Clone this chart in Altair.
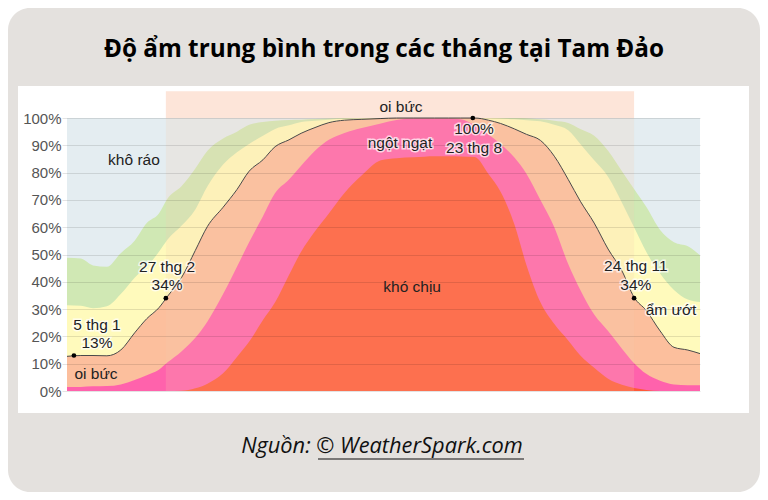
import altair as alt
import pandas as pd

# ---------------- data ----------------
days = [0, 8, 15, 23, 31, 39, 46, 53, 58, 66, 74, 81, 90, 98, 105, 113, 120, 128, 135,
        143, 151, 160, 170, 181, 190, 200, 212, 220, 227, 235, 243, 250, 258, 265, 273,
        281, 289, 296, 304, 312, 320, 327, 334, 342, 350, 358, 365]

# cumulative tops of each comfort band (% of time)
miserable_top = [0, 0, 0, 0, 0, 0, 0, 0, 0, 0.1, 1.0, 2.7, 6.5, 12.5, 18, 26, 32.5, 42.5, 51,
                 58.5, 65, 72.5, 79, 84.5, 85.3, 85.6, 86, 86, 85.9, 85.7, 79.5, 73, 61, 46, 32.5,
                 24.5, 18.5, 13, 8.5, 4.5, 2.3, 1.1, 0.4, 0, 0, 0, 0]
oppressive_top = [1.5, 1.5, 1.7, 1.8, 2.4, 4, 5.8, 7.8, 10.5, 14.5, 19.5, 25.5, 35.5, 45.5, 54.5,
                  64, 72.5, 77.5, 82.5, 88, 92, 94.5, 96.3, 98, 99.3, 99.8, 99.8, 99.8, 99.5, 97.3,
                  94, 90.5, 85.5, 79.5, 70, 60, 46.5, 37, 28, 22, 15.5, 10.2, 6.3, 3.8, 2.4, 2.1, 2.1]
muggy_top = [12.7, 13, 13, 12.9, 15, 21.3, 26.5, 30.5, 34.7, 41.5, 51.5, 60.3, 67.3, 73.8, 80.5,
             84.7, 89.5, 92, 94.4, 96.5, 98.3, 99.2, 99.5, 99.8, 100, 100, 100, 100, 100, 100,
             99.2, 98, 96, 94, 91.8, 86, 77.5, 69.5, 61.5, 52, 44, 34.3, 29.5, 22, 16, 15, 13.7]
humid_top = [31.4, 31.2, 30.3, 31, 35.5, 41.5, 45.5, 51, 55.5, 60.5, 66.5, 75, 83, 87.5, 90.5,
             93.5, 96, 97.3, 98.5, 99, 99.4, 99.7, 99.9, 100, 100, 100, 100, 100, 100, 100,
             100, 99.8, 99.5, 99.2, 98.8, 97.5, 95.5, 90.5, 84.5, 78.5, 69, 60, 51, 43, 37, 33.5, 32.6]
comfortable_top = [48.8, 48.5, 46, 45.5, 50.5, 55, 61.5, 65, 70.5, 75, 81.5, 88, 92.5, 95, 97.5,
                   98.5, 99, 99.3, 99.4, 99.6, 99.8, 100, 100, 100, 100, 100, 100, 100, 100, 100,
                   100, 100, 100, 99.9, 99.5, 99, 98.2, 96, 93.5, 88, 80.5, 74, 67.5, 59, 54.5, 53, 49.7]

month_starts = [0, 31, 59, 90, 120, 151, 181, 212, 243, 273, 304, 334, 365]
month_labels = ["Thg 1", "Thg 2", "Thg 3", "Thg 4", "Thg 5", "Thg 6", "Thg 7", "Thg 8",
                "Thg 9", "Thg 10", "Thg 11", "Thg 12", ""]
y_ticks = [0, 10, 20, 30, 40, 50, 60, 70, 80, 90, 100]

muggy_start, muggy_end = 57, 327      # 27 thg 2 -> 24 thg 11
band_top = 109.8

point_days = [4, 57, 234, 327]
point_vals = [13, 34, 100, 34]

ann_text = ["khô ráo", "oi bức", "5 thg 1", "13%", "27 thg 2", "34%", "100%", "23 thg 8",
            "ngột ngạt", "khó chịu", "24 thg 11", "34%", "ẩm ướt", "oi bức"]
ann_day = [38.6, 16.7, 17.3, 17.3, 57.7, 57.7, 234.7, 234.7, 192, 199, 328, 328, 348.3, 192.6]
ann_val = [84.5, 6.1, 24.1, 17.5, 45.3, 38.7, 95.9, 88.9, 90.7, 38, 45.7, 38.7, 29.6, 103.9]
ann_halo = [False, False, True, True, True, True, True, True, True, False, True, True, True, False]

title_text = "Độ ẩm trung bình trong các tháng tại Tam Đảo"
source_text = "Nguồn: © WeatherSpark.com"

# ---------------- chart ----------------
W, H = 633, 273
FONT = "Liberation Sans"

df = pd.DataFrame({
    "day": days, "zero": [0] * len(days),
    "miserable": miserable_top, "oppressive": oppressive_top, "muggy": muggy_top,
    "humid": humid_top, "comfortable": comfortable_top,
})
pts = pd.DataFrame({"day": point_days, "val": point_vals})
ann = pd.DataFrame({"text": ann_text, "day": ann_day, "val": ann_val, "halo": ann_halo})
plot_box = pd.DataFrame({"x0": [0], "x1": [365], "y0": [0], "y1": [100]})
period = pd.DataFrame({"x0": [muggy_start], "x1": [muggy_end], "y0": [0], "y1": [100], "yt": [band_top]})
one = pd.DataFrame({"t": [title_text], "s": [source_text]})

SX = alt.Scale(domain=[0, 365], nice=False, zero=False)
SY = alt.Scale(domain=[0, 100], nice=False, zero=False)


def X(f):
    return alt.X(f, type="quantitative", scale=SX, axis=None)


def Y(f, axis=None):
    return alt.Y(f, type="quantitative", scale=SY, axis=axis)


label_expr = ("[" + ",".join("'%s'" % m for m in month_labels) + "][indexof(["
              + ",".join(str(d) for d in month_starts) + "], datum.value)]")

x_axis = alt.Axis(values=month_starts, labelExpr=label_expr, labelOffset=26, labelFlush=False,
                  labelOverlap=False, labelBound=False, labelFont=FONT, labelFontSize=15,
                  labelColor="#555555", labelPadding=3, grid=True, gridColor="#000000",
                  gridOpacity=0.11, ticks=True, tickSize=5, tickColor="#000000", tickOpacity=0.11,
                  domain=False, title=None, zindex=1)
y_left = alt.Axis(values=y_ticks, labelExpr="datum.value + '%'", labelFont=FONT, labelFontSize=15,
                  labelColor="#555555", labelPadding=1, grid=True, gridColor="#000000",
                  gridOpacity=0.11, ticks=True, tickSize=5, tickColor="#000000", tickOpacity=0.11,
                  domain=False, title=None, orient="left", zindex=1)
y_right = alt.Axis(values=y_ticks, labelExpr="datum.value + '%'", labelFont=FONT, labelFontSize=15,
                   labelColor="#555555", labelPadding=1, grid=False, ticks=True, tickSize=5,
                   tickColor="#000000", tickOpacity=0.11, domain=False, title=None, orient="right")

card = alt.Chart(one).mark_rect(color="#e4e1de", cornerRadius=22).encode(
    x=alt.value(-59), x2=alt.value(693), y=alt.value(-110), y2=alt.value(374))
panel = alt.Chart(one).mark_rect(color="#ffffff").encode(
    x=alt.value(-49), x2=alt.value(682), y=alt.value(-32), y2=alt.value(295))

dry = alt.Chart(plot_box).mark_rect(color="#e4edf1").encode(
    x=alt.X("x0:Q", scale=SX, axis=x_axis), x2="x1:Q",
    y=Y("y0", axis=y_left), y2="y1:Q")

layers = [card, panel, dry]
for col, colr in [("comfortable", "#d0e8b4"), ("humid", "#fffabc"), ("muggy", "#fcbf9d"),
                  ("oppressive", "#ff62ac"), ("miserable", "#ff5938")]:
    layers.append(alt.Chart(df).mark_area(color=colr, interpolate="monotone").encode(
        x=X("day"), y=Y("zero"), y2=alt.Y2(col)))

overlay = alt.Chart(period).mark_rect(color="#f3cdb0", opacity=0.2).encode(
    x=X("x0"), x2="x1:Q", y=Y("y0"), y2="y1:Q")
band = alt.Chart(period).mark_rect(color="#fde5d9").encode(
    x=X("x0"), x2="x1:Q", y=Y("y1"), y2="yt:Q")

line = alt.Chart(df).mark_line(color="#4a4a4a", strokeWidth=1, interpolate="monotone").encode(
    x=X("day"), y=Y("muggy", axis=y_right))

dots = alt.Chart(pts).mark_circle(color="#000000", size=22, opacity=1).encode(
    x=X("day"), y=Y("val"))

halo = alt.Chart(ann).transform_filter("datum.halo").mark_text(
    font=FONT, fontSize=15.5, align="center", baseline="middle", fill="#ffffff",
    stroke="#ffffff", strokeWidth=3, strokeOpacity=0.7, fillOpacity=0.7).encode(
    x=X("day"), y=Y("val"), text="text:N")
texts = alt.Chart(ann).mark_text(
    font=FONT, fontSize=15.5, align="center", baseline="middle", color="#222222").encode(
    x=X("day"), y=Y("val"), text="text:N")

title = alt.Chart(one).mark_text(font="Open Sans", fontSize=24.3, fontWeight="bold", color="#000000",
                                 align="center", baseline="middle").encode(
    x=alt.value(317), y=alt.value(-68), text="t:N")
source = alt.Chart(one).mark_text(font="Open Sans", fontSize=21.8, fontStyle="italic", color="#111111",
                                  align="center", baseline="middle").encode(
    x=alt.value(315), y=alt.value(328), text="s:N")
underline = alt.Chart(one).mark_rule(color="#111111", strokeWidth=1.2).encode(
    x=alt.value(251), x2=alt.value(457), y=alt.value(341))

layers += [overlay, band, line, dots, halo, texts, title, source, underline]

chart = alt.layer(*layers).resolve_scale(y="independent").properties(
    width=W, height=H,
    autosize=alt.AutoSizeParams(type="none"),
    padding={"left": 59, "top": 110, "right": 60, "bottom": 101},
    background="#ffffff",
).configure_view(stroke=None)

chart.save("out.html", embed_options={"renderer": "svg", "actions": False})
